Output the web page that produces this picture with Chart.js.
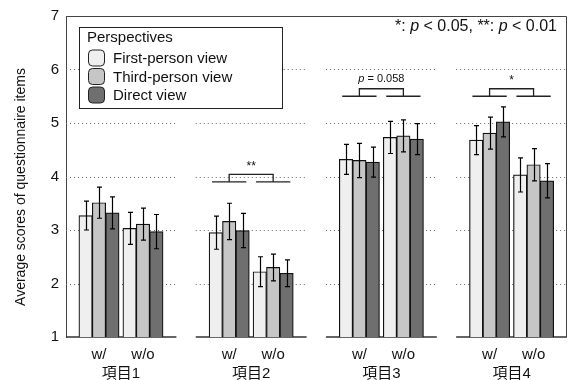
<!DOCTYPE html>
<html>
<head>
<meta charset="utf-8">
<script src="https://cdn.jsdelivr.net/npm/chart.js@4.4.1/dist/chart.umd.min.js"></script>
<style>
  body { margin: 0; background: #fff; }
</style>
</head>
<body>
<canvas id="scoreChart" width="570" height="380"></canvas>
<script>
// data
var items = ['項目1', '項目2', '項目3', '項目4'];
var conditions = ['w/', 'w/o'];
var perspectives = ['First-person view', 'Third-person view', 'Direct view'];

// order: 項目1 w/, 項目1 w/o, 項目2 w/, ...
var firstPerson = [3.27, 3.03, 2.95, 2.22, 4.32, 4.73, 4.68, 4.03];
var thirdPerson = [3.51, 3.11, 3.16, 2.30, 4.30, 4.76, 4.81, 4.22];
var directView  = [3.32, 2.97, 2.99, 2.19, 4.27, 4.70, 5.02, 3.92];

var firstErr  = [0.27, 0.30, 0.31, 0.28, 0.28, 0.30, 0.27, 0.32];
var thirdErr  = [0.29, 0.30, 0.34, 0.25, 0.32, 0.30, 0.30, 0.30];
var directErr = [0.30, 0.32, 0.32, 0.25, 0.28, 0.29, 0.28, 0.32];

var yTicks = [1, 2, 3, 4, 5, 6, 7];

// significance marks (item index, label, bracket base level)
var sigItems  = [1, 2, 3];
var sigLabels = ['**', 'p = 0.058', '*'];
var sigLevels = [3.9, 5.5, 5.5];

var FONT = "'Liberation Sans', Arial, 'Noto Sans CJK JP', sans-serif";
var GROUP_STEP = 2.96;
var colors = ['#efefef', '#c6c6c6', '#6f6f6f'];

Chart.defaults.font.family = FONT;
Chart.defaults.color = '#111';

function xPos(i) {
  // i = index into the value arrays
  return Math.floor(i / 2) * GROUP_STEP + (i % 2);
}

var allValues = [firstPerson, thirdPerson, directView];
var allErrs = [firstErr, thirdErr, directErr];

var datasets = perspectives.map(function (name, d) {
  return {
    label: name,
    data: allValues[d].map(function (v, i) { return { x: xPos(i), y: v }; }),
    errors: allErrs[d],
    backgroundColor: colors[d],
    borderColor: '#111',
    borderWidth: 1.2,
    barThickness: 13.4
  };
});

// tick positions + labels for the x axis
var xTickVals = [];
var xTickLabels = [];
items.forEach(function (name, g) {
  conditions.forEach(function (c, k) {
    xTickVals.push(g * GROUP_STEP + k);
    xTickLabels.push(c);
  });
  xTickVals.push(g * GROUP_STEP + 0.5);
  xTickLabels.push(['', name]);
});

// dotted grid + broken bottom axis + frame
var framePlugin = {
  id: 'frame',
  beforeDatasetsDraw: function (chart) {
    var ctx = chart.ctx, xs = chart.scales.x, ys = chart.scales.y, a = chart.chartArea;
    ctx.save();
    items.forEach(function (name, g) {
      var c = g * GROUP_STEP + 0.5;
      var x0 = Math.max(xs.getPixelForValue(c - 1.26), a.left);
      var x1 = xs.getPixelForValue(c + 1.26);
      ctx.strokeStyle = '#666';
      ctx.lineWidth = 1;
      ctx.setLineDash([1, 3]);
      yTicks.slice(1, -1).forEach(function (t) {
        var y = Math.round(ys.getPixelForValue(t)) + 0.5;
        ctx.beginPath(); ctx.moveTo(x0, y); ctx.lineTo(x1, y); ctx.stroke();
      });
      ctx.setLineDash([]);
      ctx.strokeStyle = '#333';
      ctx.lineWidth = 1.3;
      var yb = ys.getPixelForValue(yTicks[0]);
      ctx.beginPath(); ctx.moveTo(x0, yb); ctx.lineTo(x1, yb); ctx.stroke();
    });
    ctx.strokeStyle = '#444';
    ctx.lineWidth = 1;
    ctx.beginPath();
    ctx.moveTo(a.left, a.top + 0.5);
    ctx.lineTo(a.right - 0.5, a.top + 0.5);
    ctx.lineTo(a.right - 0.5, a.bottom);
    ctx.stroke();
    ctx.restore();
  }
};

// error bars, brackets, legend, notes
var extrasPlugin = {
  id: 'extras',
  afterDatasetsDraw: function (chart) {
    var ctx = chart.ctx, xs = chart.scales.x, ys = chart.scales.y;
    ctx.save();
    ctx.strokeStyle = '#000';
    ctx.lineWidth = 1.2;
    chart.data.datasets.forEach(function (ds, d) {
      chart.getDatasetMeta(d).data.forEach(function (bar, i) {
        var v = ds.data[i].y, e = ds.errors[i];
        var yt = ys.getPixelForValue(v + e), yb = ys.getPixelForValue(v - e);
        var x = Math.round(bar.x) + 0.5;
        ctx.beginPath();
        ctx.moveTo(x, yt); ctx.lineTo(x, yb);
        ctx.moveTo(x - 2.5, yt); ctx.lineTo(x + 2.5, yt);
        ctx.moveTo(x - 2.5, yb); ctx.lineTo(x + 2.5, yb);
        ctx.stroke();
      });
    });

    // significance brackets
    sigItems.forEach(function (g, k) {
      var base = ys.getPixelForValue(sigLevels[k]);
      var top = ys.getPixelForValue(sigLevels[k] + 0.14);
      var xa = xs.getPixelForValue(g * GROUP_STEP);
      var xb = xs.getPixelForValue(g * GROUP_STEP + 1);
      var hw = xs.getPixelForValue(0.39) - xs.getPixelForValue(0);
      ctx.strokeStyle = '#222';
      ctx.lineWidth = 1.3;
      ctx.beginPath();
      ctx.moveTo(xa - hw, base); ctx.lineTo(xa + hw, base);
      ctx.moveTo(xb - hw, base); ctx.lineTo(xb + hw, base);
      ctx.moveTo(xa, base); ctx.lineTo(xa, top); ctx.lineTo(xb, top); ctx.lineTo(xb, base);
      ctx.stroke();
      var cx = (xa + xb) / 2, ty = top - 10;
      ctx.fillStyle = '#111';
      ctx.textBaseline = 'middle';
      if (sigLabels[k].indexOf('p') === 0) {
        ctx.font = 'italic 11px ' + FONT;
        var w1 = ctx.measureText('p').width;
        ctx.font = '11px ' + FONT;
        var rest = ' = ' + sigLabels[k].split('= ')[1];
        var w2 = ctx.measureText(rest).width;
        var sx = cx - (w1 + w2) / 2;
        ctx.textAlign = 'left';
        ctx.font = 'italic 11px ' + FONT;
        ctx.fillText('p', sx, ty);
        ctx.font = '11px ' + FONT;
        ctx.fillText(rest, sx + w1, ty);
      } else {
        ctx.font = '12px ' + FONT;
        ctx.textAlign = 'center';
        ctx.fillText(sigLabels[k], cx, ty + 2);
      }
    });

    // note in top right corner
    var parts = [['*: ', false], ['p', true], [' < 0.05, **: ', false], ['p', true], [' < 0.01', false]];
    var total = 0;
    parts.forEach(function (p) {
      ctx.font = (p[1] ? 'italic ' : '') + '16px ' + FONT;
      total += ctx.measureText(p[0]).width;
    });
    var px = 557 - total;
    ctx.textAlign = 'left';
    ctx.textBaseline = 'middle';
    parts.forEach(function (p) {
      ctx.font = (p[1] ? 'italic ' : '') + '16px ' + FONT;
      ctx.fillText(p[0], px, 27);
      px += ctx.measureText(p[0]).width;
    });

    // legend box
    ctx.fillStyle = '#fff';
    ctx.fillRect(79.5, 27.5, 203, 81);
    ctx.strokeStyle = '#222';
    ctx.lineWidth = 1;
    ctx.strokeRect(79.5, 27.5, 203, 81);
    ctx.fillStyle = '#111';
    ctx.font = '15px ' + FONT;
    ctx.fillText('Perspectives', 87, 38);
    chart.data.datasets.forEach(function (ds, d) {
      var cy = 58 + d * 18.5;
      ctx.beginPath();
      ctx.roundRect(88.5, cy - 8, 16, 16, 4);
      ctx.fillStyle = ds.backgroundColor;
      ctx.fill();
      ctx.strokeStyle = '#222';
      ctx.stroke();
      ctx.fillStyle = '#111';
      ctx.fillText(ds.label, 113, cy + 1);
    });

    // y axis title
    ctx.save();
    ctx.translate(21, 187);
    ctx.rotate(-Math.PI / 2);
    ctx.textAlign = 'center';
    ctx.font = '14px ' + FONT;
    ctx.fillText('Average scores of questionnaire items', 0, 0);
    ctx.restore();
    ctx.restore();
  }
};

var ctx = document.getElementById('scoreChart').getContext('2d');
var scoreChart = new Chart(ctx, {
  type: 'bar',
  data: { datasets: datasets },
  options: {
    responsive: false,
    animation: false,
    devicePixelRatio: 1,
    layout: { padding: { left: 0, top: 13, right: 3, bottom: 0 } },
    plugins: {
      legend: { display: false },
      tooltip: { enabled: false }
    },
    scales: {
      x: {
        type: 'linear',
        offset: false,
        min: -0.75,
        max: 10.64,
        grid: { display: false, drawTicks: false, offset: false },
        border: { display: false },
        afterBuildTicks: function (scale) {
          scale.ticks = xTickVals.map(function (v) { return { value: v }; });
        },
        afterFit: function (scale) { scale.height = 43; },
        ticks: {
          autoSkip: false,
          maxRotation: 0,
          padding: 8,
          font: { size: 15, lineHeight: 1.3 },
          color: '#111',
          callback: function (value, index) { return xTickLabels[index]; }
        }
      },
      y: {
        min: 1,
        max: 7,
        grid: { display: false, drawTicks: false },
        border: { display: true, color: '#444', width: 1 },
        afterFit: function (scale) { scale.width = 66; },
        afterBuildTicks: function (scale) {
          scale.ticks = yTicks.map(function (v) { return { value: v }; });
        },
        ticks: {
          padding: 7,
          font: { size: 15 },
          color: '#111'
        }
      }
    }
  },
  plugins: [framePlugin, extrasPlugin]
});
</script>
</body>
</html>
